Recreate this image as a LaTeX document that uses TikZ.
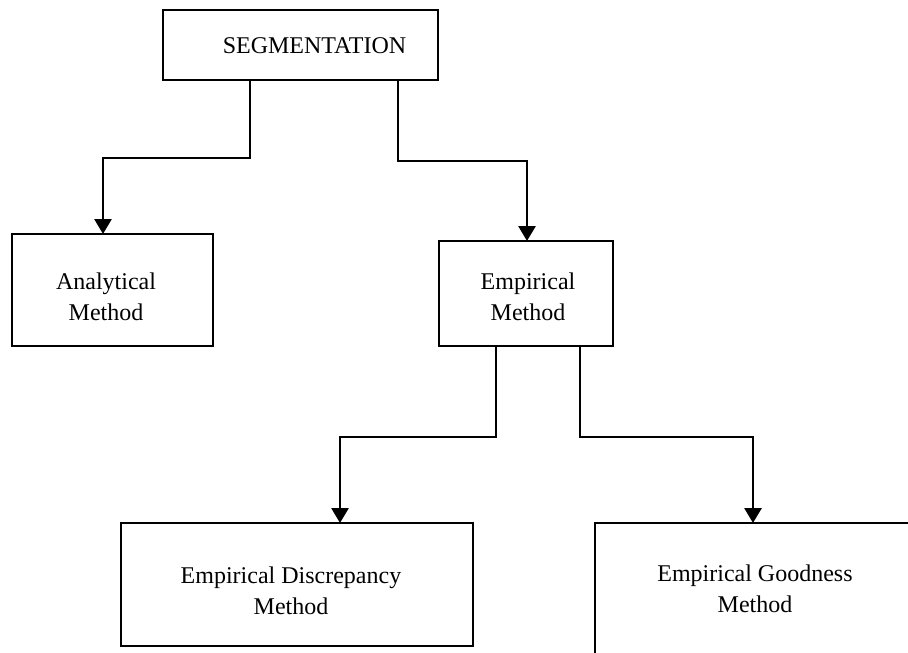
\documentclass[tikz,border=0pt]{standalone}
\usepackage{fontspec}
\setmainfont{Liberation Serif}
\usetikzlibrary{arrows.meta}
% text block moved by #1/2 sideways and #2/2 down inside its box
\newcommand{\nudge}[3]{\hspace*{#1}\raisebox{0pt}[\dimexpr\height+#2\relax]{\begin{tabular}{@{}c@{}}#3\end{tabular}}}
\tikzset{
    box/.style = {draw, line width=1.8pt, outer sep=0pt, inner sep=0pt,
                  font=\fontsize{24}{31}\selectfont},
    openbox/.style = {outer sep=0pt, inner sep=0pt,
                  font=\fontsize{24}{31}\selectfont},
    link/.style = {line width=2.8pt, -{Triangle[width=17pt,length=15pt]}}
}

\begin{document}
\begin{tikzpicture}[x=1pt,y=-1pt,line cap=butt,line join=miter]
\useasboundingbox (0,0) rectangle (908,653);

\node[box, minimum width=275pt, minimum height=70pt] (seg) at (300.5,45) {\nudge{28pt}{4pt}{SEGMENTATION}};
\node[box, minimum width=201pt, minimum height=112pt] (anal) at (112.5,290) {\nudge{-13pt}{18pt}{Analytical\\Method}};
\node[box, minimum width=174pt, minimum height=105pt] (emp) at (526,293.5) {\nudge{4pt}{10pt}{Empirical\\Method}};
\node[box, minimum width=352pt, minimum height=123pt] (disc) at (297,584.5) {\nudge{-12pt}{16pt}{Empirical Discrepancy\\Method}};
\node[openbox, minimum width=313pt, minimum height=130pt] (good) at (751.5,588) {\nudge{7pt}{6pt}{Empirical Goodness\\Method}};
\draw[line width=1.8pt] (good.north east) -- (good.north west) -- (good.south west);

\draw[link] (seg.south -| 250,0) |- (103,158) -- (anal.north -| 103,0);
\draw[link] (seg.south -| 398,0) |- (527,161) -- (emp.north -| 527,0);
\draw[link] (emp.south -| 496,0) |- (340,437) -- (disc.north -| 340,0);
\draw[link] (emp.south -| 580,0) |- (753,437) -- (good.north -| 753,0);
\end{tikzpicture}
\end{document}
